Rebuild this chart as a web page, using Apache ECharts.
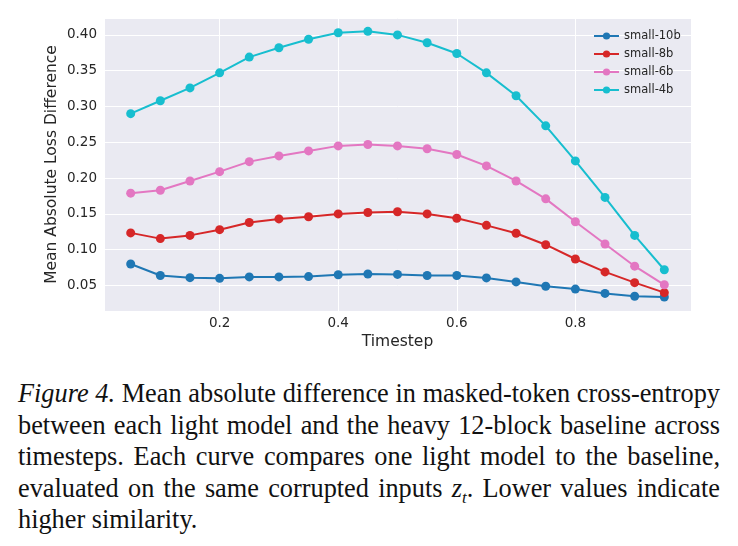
<!DOCTYPE html>
<html>
<head>
<meta charset="utf-8">
<script src="https://cdn.jsdelivr.net/npm/echarts@6/dist/echarts.min.js"></script>
<style>
  html, body { margin: 0; padding: 0; background: #fff; }
  #wrap { position: relative; width: 738px; height: 546px; }
  #chart { position: absolute; left: 0; top: 0; width: 738px; height: 360px; }
  #caption {
    position: absolute; left: 18px; top: 378px; width: 702px;
    font-family: "Liberation Serif", "DejaVu Serif", serif;
    font-size: 26.3px; line-height: 31.5px; color: #111;
  }
  #caption .ln { display: block; text-align: justify; text-align-last: justify; white-space: nowrap; }
  #caption .ln.last { text-align-last: left; }
  #caption sub { font-size: 17px; line-height: 0; }
</style>
</head>
<body>
<div id="wrap">
  <div id="chart"></div>
  <div id="caption">
    <span class="ln"><i>Figure 4.</i> Mean absolute difference in masked-token cross-entropy</span>
    <span class="ln">between each light model and the heavy 12-block baseline across</span>
    <span class="ln">timesteps. Each curve compares one light model to the baseline,</span>
    <span class="ln">evaluated on the same corrupted inputs <i>z<sub>t</sub></i>. Lower values indicate</span>
    <span class="ln last">higher similarity.</span>
  </div>
</div>
<script>
const timesteps = [0.05, 0.10, 0.15, 0.20, 0.25, 0.30, 0.35, 0.40, 0.45, 0.50,
                   0.55, 0.60, 0.65, 0.70, 0.75, 0.80, 0.85, 0.90, 0.95];

const small10b = [0.080, 0.064, 0.061, 0.060, 0.062, 0.062, 0.0625, 0.065, 0.066, 0.0655,
                  0.064, 0.064, 0.0606, 0.055, 0.049, 0.045, 0.039, 0.035, 0.034];
const small8b = [0.1235, 0.1155, 0.120, 0.128, 0.138, 0.143, 0.146, 0.150, 0.152, 0.153,
                 0.150, 0.144, 0.134, 0.123, 0.107, 0.087, 0.069, 0.054, 0.040];
const small6b = [0.179, 0.183, 0.196, 0.209, 0.223, 0.231, 0.238, 0.245, 0.247, 0.245,
                 0.241, 0.233, 0.217, 0.196, 0.171, 0.139, 0.108, 0.077, 0.051];
const small4b = [0.290, 0.308, 0.326, 0.347, 0.369, 0.382, 0.394, 0.403, 0.405, 0.400,
                 0.389, 0.374, 0.347, 0.315, 0.273, 0.224, 0.173, 0.120, 0.072];

const seriesNames = ['small-10b', 'small-8b', 'small-6b', 'small-4b'];
const seriesValues = [small10b, small8b, small6b, small4b];
const colors = ['#1f77b4', '#d62728', '#e377c2', '#17becf'];

const textColor = '#262626';
const font = 'DejaVu Sans';

const chart = echarts.init(document.getElementById('chart'), null, { renderer: 'canvas' });

const series = seriesNames.map((name, i) => ({
    name,
    type: 'line',
    data: timesteps.map((t, j) => [t, seriesValues[i][j]]),
    symbol: 'circle',
    symbolSize: 9,
    showSymbol: true,
    color: colors[i],
    lineStyle: { width: 2, color: colors[i] },
    itemStyle: { color: colors[i] },
    z: 2 + i,
}));

const gridLines = { show: true, lineStyle: { color: '#ffffff', width: 1 } };

chart.setOption({
    animation: false,
    backgroundColor: '#ffffff',
    textStyle: { fontFamily: font },
    grid: {
        left: 104, top: 18, width: 587, height: 293,
        show: true, backgroundColor: '#EAEAF2', borderWidth: 0,
    },
    legend: {
        data: seriesNames,
        orient: 'vertical',
        left: 588, top: 25,
        itemWidth: 25, itemHeight: 9, itemGap: 6,
        textStyle: { color: textColor, fontSize: 11.5, fontFamily: font },
    },
    xAxis: {
        type: 'value',
        min: 0.005, max: 0.995,
        splitNumber: 5,
        name: 'Timestep',
        nameLocation: 'middle',
        nameGap: 23,
        nameMoveOverlap: false,
        nameTextStyle: { color: textColor, fontSize: 15.5, fontFamily: font },
        axisLine: { show: false },
        axisTick: { show: false },
        axisLabel: {
            color: textColor, fontSize: 13.5, margin: 5,
            showMinLabel: false, showMaxLabel: false,
            formatter: (v) => Number(v).toFixed(1),
        },
        splitLine: gridLines,
    },
    yAxis: {
        type: 'value',
        min: 0.0144, max: 0.4236,
        splitNumber: 8,
        name: 'Mean Absolute Loss Difference',
        nameLocation: 'middle',
        nameGap: 44,
        nameMoveOverlap: false,
        nameTextStyle: { color: textColor, fontSize: 15.5, fontFamily: font },
        axisLine: { show: false },
        axisTick: { show: false },
        axisLabel: {
            color: textColor, fontSize: 13.5, margin: 7,
            showMinLabel: false, showMaxLabel: false,
            formatter: (v) => Number(v).toFixed(2),
        },
        splitLine: gridLines,
    },
    series,
});
</script>
</body>
</html>
